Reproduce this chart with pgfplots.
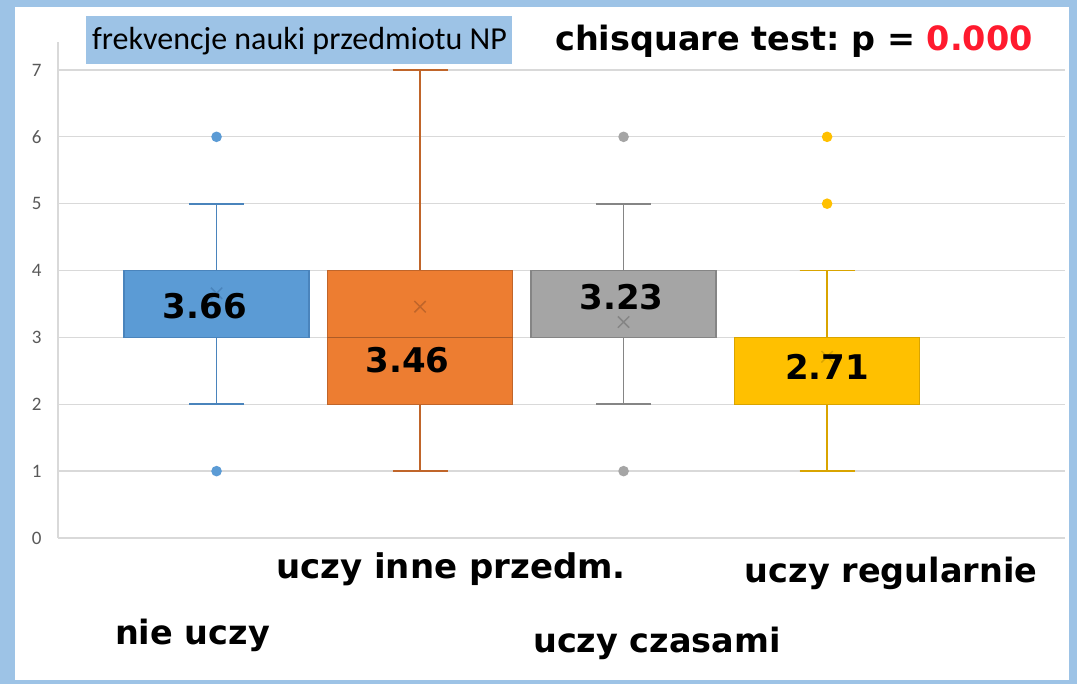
\documentclass[border=0pt]{standalone}
\usepackage{pgfplots}
\pgfplotsset{compat=1.18}
\usepgfplotslibrary{statistics}
\usepackage{fontspec}
\setmainfont{Carlito}
\newfontfamily\dv{DejaVu Sans}
\newfontfamily\carl{Carlito}
\definecolor{frameblue}{HTML}{9DC3E6}
\definecolor{titleblue}{HTML}{9DC3E6}
\definecolor{pred}{HTML}{FF1A2E}
\definecolor{gridgray}{HTML}{D9D9D9}
\definecolor{tickgray}{HTML}{595959}
\definecolor{blueF}{HTML}{5B9BD5}
\definecolor{blueE}{HTML}{4A84BC}
\definecolor{orangeF}{HTML}{ED7D31}
\definecolor{orangeE}{HTML}{C0652A}
\definecolor{grayF}{HTML}{A5A5A5}
\definecolor{grayE}{HTML}{858585}
\definecolor{yellowF}{HTML}{FFC000}
\definecolor{yellowE}{HTML}{D9A400}
\pgfdeclarelayer{background}
\pgfsetlayers{background,main}
\frenchspacing
\begin{document}
\begin{tikzpicture}
\begin{axis}[
  name=ax, scale only axis,
  width=1007pt, height=496.1pt,
  xmin=0.221, xmax=5.169, ymin=0, ymax=7.42,
  axis x line=none, axis y line*=left,
  axis line style={gridgray, line width=1.3pt},
  ytick={0,1,2,3,4,5,6,7}, ymajorgrids,
  grid style={gridgray, line width=1.3pt},
  major tick length=0pt,
  /pgf/number format/assume math mode=true,
  yticklabel style={font=\carl\fontsize{19}{22}\selectfont, text=tickgray, xshift=-13pt},
  clip=false,
  boxplot/draw direction=y,
  boxplot/box extend=0.91, boxplot/whisker extend=0.27,
]
\addplot[draw=blueE, fill=blueF, line width=1.5pt, mark=*, mark size=4.5pt,
  mark options={fill=blueF, draw=blueF},
  boxplot/every whisker/.style={draw=blueE, line width=1.8pt},
  boxplot/every average/.style={/tikz/mark=x, /tikz/mark size=8pt, /tikz/mark options={draw=blueE!80!black, line width=1pt}},
  boxplot prepared={draw position=1, lower whisker=2, lower quartile=3, median=4, upper quartile=4, upper whisker=5, average=3.66}]
  table[row sep=\\, y index=0] {data\\1\\6\\};
\addplot[draw=orangeE, fill=orangeF, line width=1.5pt, mark=*, mark size=4.5pt,
  mark options={fill=orangeF, draw=orangeF},
  boxplot/every whisker/.style={draw=orangeE, line width=1.8pt},
  boxplot/every average/.style={/tikz/mark=x, /tikz/mark size=8pt, /tikz/mark options={draw=orangeE!80!black, line width=1pt}},
  boxplot/every median/.style={draw=orangeE!90!black, line width=1.5pt},
  boxplot prepared={draw position=2, lower whisker=1, lower quartile=2, median=3, upper quartile=4, upper whisker=7, average=3.46}]
  coordinates {};
\addplot[draw=grayE, fill=grayF, line width=1.5pt, mark=*, mark size=4.5pt,
  mark options={fill=grayF, draw=grayF},
  boxplot/every whisker/.style={draw=grayE, line width=1.8pt},
  boxplot/every average/.style={/tikz/mark=x, /tikz/mark size=8pt, /tikz/mark options={draw=grayE, line width=1pt}},
  boxplot prepared={draw position=3, lower whisker=2, lower quartile=3, median=3, upper quartile=4, upper whisker=5, average=3.23}]
  table[row sep=\\, y index=0] {data\\1\\6\\};
\addplot[draw=yellowE, fill=yellowF, line width=1.5pt, mark=*, mark size=4.5pt,
  mark options={fill=yellowF, draw=yellowF},
  boxplot/every whisker/.style={draw=yellowE, line width=1.8pt},
  boxplot/every average/.style={/tikz/mark=x, /tikz/mark size=8pt, /tikz/mark options={draw=yellowE!80!black, line width=1pt}},
  boxplot prepared={draw position=4, lower whisker=1, lower quartile=2, median=3, upper quartile=3, upper whisker=4, average=2.71}]
  table[row sep=\\, y index=0] {data\\5\\6\\};
\node[font=\dv\bfseries\fontsize{34}{40}\selectfont, inner sep=0] at (axis cs:0.943,3.47) {3.66};
\node[font=\dv\bfseries\fontsize{34}{40}\selectfont, inner sep=0] at (axis cs:1.939,2.66) {3.46};
\node[font=\dv\bfseries\fontsize{34}{40}\selectfont, inner sep=0] at (axis cs:2.99,3.60) {3.23};
\node[font=\dv\bfseries\fontsize{34}{40}\selectfont, inner sep=0] at (axis cs:4.0,2.56) {2.71};
\end{axis}
\begin{scope}[shift={(ax.south west)}, x=1pt, y=1pt]
\begin{scope}[shift={(-58pt,-146pt)}]
\begin{pgfonlayer}{background}
\fill[frameblue] (0,0) rectangle (1077,684);
\fill[white] (15,4) rectangle (1069,677);
\end{pgfonlayer}
\fill[titleblue] (86,620) rectangle (512,668);
\node[anchor=base west, inner sep=0] at (92,634) {\carl\fontsize{32}{36}\selectfont frekvencje nauki przedmiotu NP};
\node[anchor=base west, inner sep=0] at (555,633) {\dv\bfseries\fontsize{33.5}{38}\selectfont chisquare test: p = \textcolor{pred}{0.000}};
\node[anchor=base, inner sep=0, font=\dv\bfseries\fontsize{34}{38}\selectfont] at (451,105) {uczy inne przedm.};
\node[anchor=base, inner sep=0, font=\dv\bfseries\fontsize{33.5}{38}\selectfont] at (891,101) {uczy regularnie};
\node[anchor=base, inner sep=0, font=\dv\bfseries\fontsize{33.5}{38}\selectfont] at (192.5,39) {nie uczy};
\node[anchor=base, inner sep=0, font=\dv\bfseries\fontsize{33.5}{38}\selectfont] at (657,31) {uczy czasami};
\pgfresetboundingbox
\path[use as bounding box] (0,0) rectangle (1077,684);
\end{scope}
\end{scope}
\end{tikzpicture}
\end{document}
